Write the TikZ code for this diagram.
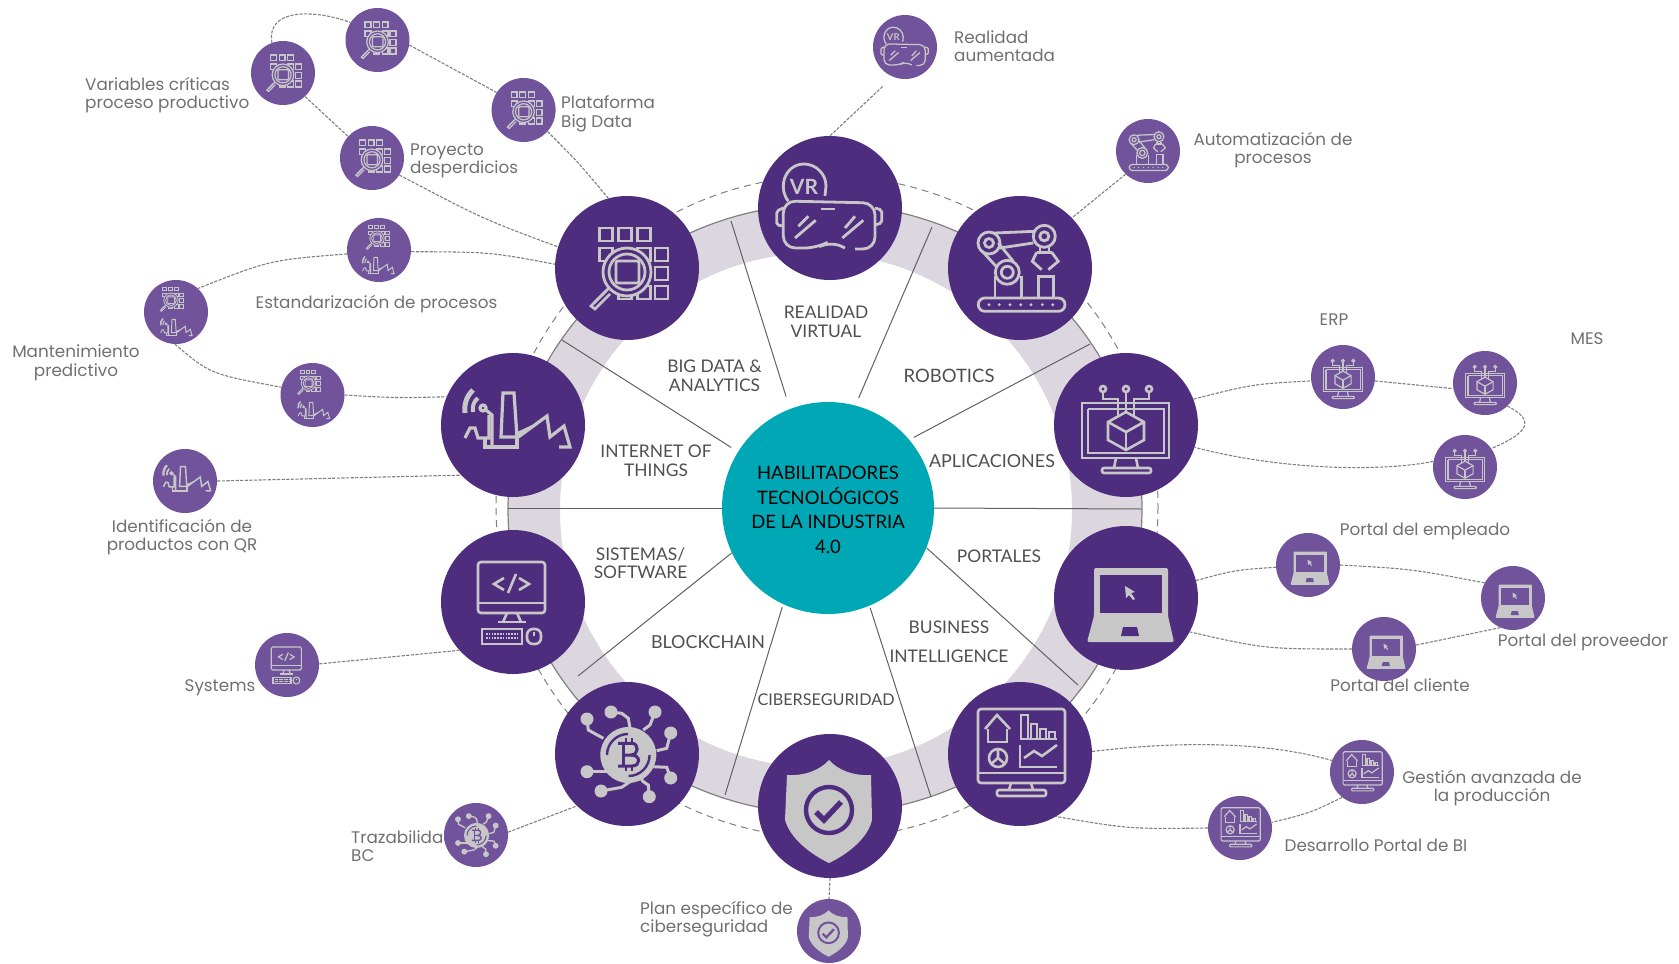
\documentclass[tikz,border=0pt]{standalone}
\usepackage{fontspec}
\setmainfont{Lato}
\newfontfamily\labfont{Poppins}
\usetikzlibrary{calc}
\definecolor{hubpurple}{HTML}{4E2C7E}
\definecolor{satpurple}{HTML}{70539B}
\definecolor{tealhub}{HTML}{00A8B5}
\definecolor{bandgray}{HTML}{DCD7DF}
\definecolor{icongray}{HTML}{C8C7C8}
\definecolor{linegray}{HTML}{808080}
\definecolor{textgray}{HTML}{707070}
\definecolor{capsgray}{HTML}{4F4F4F}
\tikzset{
	hub/.style={circle, fill=hubpurple, minimum size=144pt, inner sep=0},
	sat/.style={circle, fill=satpurple, minimum size=64pt, inner sep=0},
	link/.style={draw=linegray, line width=1.1pt, dash pattern=on 3.2pt off 1.4pt},
	spoke/.style={draw=capsgray!90, line width=1pt},
	lab/.style={text=textgray, font=\labfont\fontsize{16.8}{18.5}\selectfont, align=center, inner sep=0},
	labl/.style={lab, align=left, anchor=west},
	caps/.style={text=capsgray, font=\fontsize{17.4}{18.5}\selectfont, align=center, inner sep=0}
}
\newcommand{\cell}[2] % left, top of one small square
{
	\draw (#1,#2) rectangle (#1+13,#2+13);
}
\newcommand{\icondata}[3] % place, scale, background
{
	\begin{scope}[shift={(#1)}, scale=#2, color=icongray, line width=#2*2.8pt]
		\cell{-27.5}{-40}
		\cell{-8.5}{-40}
		\cell{10.5}{-40}
		\cell{-27.5}{-20}
		\cell{10.5}{-20}
		\cell{28}{-20}
		\cell{28}{-1}
		\cell{28}{18}
		\cell{10.5}{18}
		\cell{-8.5}{18}
		% lens
		\draw[fill=#3] (0,4) circle (24);
		\draw (0,4) circle (18);
		\draw[rounded corners=#2*2pt] (-11,-7) rectangle (12,15);
		\draw (-18,20) -- (-33,35);
		\draw (-21,23) -- (-36,38) -- (-32,41) -- (-17,26);
	\end{scope}
}
\newcommand{\iconplant}[2] % place, scale
{
	\begin{scope}[shift={(#1)}, scale=#2, color=icongray, line width=#2*3.2pt]
		% waves
		\draw[line width=#2*5pt] (-48,-12) .. controls (-49,-22) and (-46,-29) .. (-40,-35);
		\draw[line width=#2*4pt] (-40,-13) .. controls (-41,-19) and (-39,-24) .. (-35,-27);
		\draw (-30,-17) circle (3);
		\draw (-27,-15) -- (-21,-10) -- (-21,21);
		% plant
		\draw (-48,13) -- (-43,3) -- (-38,3) -- (-35,13) -- (-24,13) -- (-24,-10);
		\draw (-28,13) -- (-28,22) -- (4,22) -- (4,12);
		\draw (-12,12) -- (-10,-32) -- (1,-32) -- (4,12) -- cycle;
		\fill (4,7) -- (19,0) -- (5,14) -- cycle;
		\draw (4,13) -- (34,-9) -- (37,12) -- (51,1) -- (57,22) -- (46,22);
	\end{scope}
}
\newcommand{\iconvr}[2]
{
	\begin{scope}[shift={(#1)}, scale=#2, color=icongray, line width=#2*2.8pt]
		\draw (-41.7,-6.7) .. controls (-53,-22) and (-44,-44) .. (-26,-44) .. controls (-14,-44) and (-4,-34) .. (-4,-22) -- (-5,-12);
		\node[text=icongray, font=\bfseries\fontsize{21}{22}\selectfont, scale=#2, inner sep=0] (mark#1) at (-26,-21) {VR};
		\draw[rounded corners=#2*12pt] (25,41) -- (45,41) -- (45,-5) -- (-46.7,-7) -- (-46.7,40) -- (-13,40) -- (0,33) -- (15,40);
		\draw (-9.3,1) -- (5,1);
		\draw[rounded corners=#2*2pt] (-46.7,0) -- (-53.3,3) -- (-53.3,17) -- (-46.7,18);
		\draw[rounded corners=#2*2pt] (45,0) -- (51.7,2) -- (51.7,15) -- (45,17);
		\draw (-31.7,18.3) -- (-21.7,8.3);
		\draw (-35,30) -- (-14.3,12.3);
		\draw (15,20) -- (25,8.3);
		\draw (12.3,30) -- (33.3,12.3);
	\end{scope}
}
\newcommand{\iconrobot}[2]
{
	\begin{scope}[shift={(#1)}, scale=#2, color=icongray, line width=#2*2.8pt]
		\draw[rounded corners=#2*6.5pt] (-41.7,30) rectangle (45,43.3);
		\fill (-31,36.7) circle (1.6) (-20.7,36.7) circle (1.6) (-10,36.7) circle (1.6) (0.7,36.7) circle (1.6) (11,36.7) circle (1.6) (22.3,36.7) circle (1.6) (32.7,36.7) circle (1.6);
		% arm
		\draw (-31,-25) circle (11);
		\draw (-31,-25) circle (4.5);
		\draw (24.3,-31.7) circle (11);
		\draw (24.3,-31.7) circle (4.5);
		\draw (-12.7,4.3) circle (12);
		\draw (-12.7,4.3) circle (6);
		\draw (-25,-35) -- (15,-36.7);
		\draw (-20,-20) -- (13.3,-25);
		\draw (-37.7,-16.7) -- (-23.3,-1);
		\draw (-21.7,-25) -- (-6.7,-6.7);
		\draw (-25,8.3) -- (-25,30);
		\draw (1.7,8.3) -- (1.7,30);
		% gripper
		\draw (20,-21) -- (20,-15.7);
		\draw (29,-21) -- (29,-15.7);
		\draw (16.7,-15.7) -- (31.7,-15.7);
		\draw (16.7,-15.7) -- (12.3,-6.7) -- (21.7,1.7);
		\draw (31.7,-15.7) -- (38.3,-6.7) -- (28.3,1.7);
		\draw (18.3,30) -- (18.3,8.3) -- (33.3,8.3) -- (33.3,30);
	\end{scope}
}
\newcommand{\iconapps}[2]
{
	\begin{scope}[shift={(#1)}, scale=#2, color=icongray, line width=#2*2.6pt]
		\draw (-44,-22) rectangle (43,33);
		\draw (-38,-16) -- (38,-16) -- (38,28) -- (-38,28) -- (-38,-16);
		\draw (-10,33) -- (-12,43);
		\draw (10,33) -- (12,43);
		\draw[rounded corners=#2*2pt] (-24,43) rectangle (25,48);
		% pins
		\draw (-23,-36) circle (3);
		\draw (0,-36) circle (3);
		\draw (23,-36) circle (3);
		\draw (-23,-33) -- (-23,-26) -- (-8,-26) -- (-8,-9);
		\draw (0,-33) -- (0,-13);
		\draw (23,-33) -- (23,-26) -- (8,-26) -- (8,-9);
		% cube
		\draw (0,-13) -- (18,-3) -- (18,15) -- (0,25) -- (-18,15) -- (-18,-3) -- cycle;
		\draw (-18,-3) -- (0,7) -- (18,-3);
		\draw (0,7) -- (0,25);
	\end{scope}
}
\newcommand{\iconlaptop}[3] % place, scale, background
{
	\begin{scope}[shift={(#1)}, scale=#2, color=icongray, line width=#2*2.2pt]
		\fill[rounded corners=#2*2pt] (-32,-30) -- (42,-30) -- (42,18) -- (48,44) -- (-39,44) -- (-32,18) -- cycle;
		\fill[#3] (-26,-23) rectangle (36,15);
		\fill[#3] (-3,29) -- (11,29) -- (13,38) -- (-5,38) -- cycle;
		% cursor
		\fill (-1,-12) -- (9,-6) -- (5,-5) -- (9,1) -- (7,2) -- (3,-3) -- (0,0) -- cycle;
	\end{scope}
}
\newcommand{\iconbi}[2]
{
	\begin{scope}[shift={(#1)}, scale=#2, color=icongray, line width=#2*2.6pt]
		\draw[rounded corners=#2*3pt] (-42,-45) rectangle (45,29);
		\draw (-42,19) -- (45,19);
		\draw (-9,29) -- (-11,36);
		\draw (11,29) -- (13,36);
		\draw[rounded corners=#2*2pt] (-23,36) rectangle (26,42);
		% house
		\draw (-35,-25) -- (-23,-39) -- (-10,-25);
		\draw (-32,-25) -- (-32,-12) -- (-13,-12) -- (-13,-25);
		% bars
		\draw (0,-15) -- (37,-15);
		\draw (1,-15) -- (1,-39) -- (8,-39) -- (8,-15);
		\draw (11,-15) -- (11,-30) -- (17,-30) -- (17,-15);
		\draw (20,-15) -- (20,-25) -- (26,-25) -- (26,-15);
		\draw (29,-15) -- (29,-22) -- (35,-22) -- (35,-15);
		% pie
		\draw (-22,4) circle (9);
		\draw (-22,-5) -- (-22,4) -- (-15,10);
		\draw (-22,4) -- (-29,10);
		% chart
		\draw (0,-9) -- (0,13) -- (37,13);
		\draw (4,4) -- (14,-3) -- (22,2) -- (37,-9);
	\end{scope}
}
\newcommand{\iconshield}[3] % place, scale, background
{
	\begin{scope}[shift={(#1)}, scale=#2, color=icongray]
		\fill (-1,-46) .. controls (-10,-36) and (-25,-30) .. (-43,-31) -- (-45,14) .. controls (-40,32) and (-20,48) .. (-1,57) .. controls (18,48) and (38,32) .. (42,14) -- (41,-31) .. controls (23,-30) and (8,-36) .. (-1,-46) -- cycle;
		\draw[#3, line width=#2*4.4pt] (-1,4) circle (23);
		\draw[#3, line width=#2*5.4pt] (-14,6) -- (-6,14) -- (11,-4);
	\end{scope}
}
\newcommand{\iconcoin}[3] % place, scale, background
{
	\begin{scope}[shift={(#1)}, scale=#2, color=icongray, line width=#2*3pt]
		% branches
		\draw (-40,-35) -- (-38.7,-24) -- (-23.7,-15.7);
		\draw (-16,-42) -- (-5.3,-40.7) -- (1.3,-35.7) -- (3,-25.7);
		\draw (28,-42) -- (23,-29) -- (16.3,-24);
		\draw (43.7,-21) -- (39.7,-5.7) -- (29.7,-3.3);
		\draw (43.7,24) -- (39.7,13.3) -- (26.3,12.7);
		\draw (22.3,42.7) -- (21.3,31) -- (16.3,27.7) -- (12,22);
		\draw (-26,37) -- (-5.3,33.3) -- (3,27.7);
		\draw (-40,17.7) -- (-18.7,17.7);
		% leaves
		\fill (-40,-35) circle (6.5) (-16,-42) circle (6.5) (28,-42) circle (6.5) (43.7,-21) circle (6.5) (43.7,24) circle (6.5) (22.3,42.7) circle (6.5) (-26,37) circle (6.5) (-40,17.7) circle (6.5);
		% coin
		\fill (1.3,1) circle (28);
		\draw[#3, line width=#2*2.4pt] (-20,1) arc (180:270:21);
		\draw[#3, line width=#2*2.4pt] (22.6,1) arc (0:90:21);
		\draw[#3, line width=#2*3pt] (-4,-10.7) -- (-4,12);
		\draw[#3, line width=#2*3pt] (-9,-10.7) -- (5,-10.7) .. controls (12,-10.7) and (12,1) .. (4,1) -- (-4,1);
		\draw[#3, line width=#2*3pt] (4,1) .. controls (14,1) and (14,12) .. (5,12) -- (-9,12);
		\draw[#3, line width=#2*2.4pt] (-1,-16) -- (-1,-11) (5,-16) -- (5,-11) (-1,12) -- (-1,17) (5,12) -- (5,17);
	\end{scope}
}
\newcommand{\iconpc}[2]
{
	\begin{scope}[shift={(#1)}, scale=#2, color=icongray, line width=#2*2.6pt]
		\draw[rounded corners=#2*3pt] (-35,-40) rectangle (32,11);
		\draw (-35,1) -- (32,1);
		\draw (-9,-24) -- (-19,-18) -- (-9,-12);
		\draw (6,-24) -- (16,-18) -- (6,-12);
		\draw (3,-28) -- (-5,-9);
		\draw (-6,11) -- (-10,20);
		\draw (4,11) -- (8,20);
		\draw (-15,20) -- (13,20);
		% keyboard
		\draw (-31,27) rectangle (9,42);
		\draw[dash pattern=on #2*1.6pt off #2*1.2pt] (-27,32) -- (5,32);
		\draw[dash pattern=on #2*1.6pt off #2*1.2pt] (-27,36) -- (5,36);
		% mouse
		\draw[rounded corners=#2*6pt] (14,27) rectangle (28,42);
		\draw (21,30) -- (21,34);
	\end{scope}
}
\begin{document}
\begin{tikzpicture}[x=1pt, y=-1pt]
	\useasboundingbox (0,0) rectangle (1679,964);
	% ring
	\fill[bandgray, even odd rule] (825,509) ellipse (317 and 305) (816,510) ellipse (256 and 257);
	\draw[linegray, line width=1.2pt] (825,509) ellipse (317 and 305);
	\draw[linegray, line width=1pt, dash pattern=on 7pt off 5pt] (827,507) circle (331);
	% centre
	\node[circle, fill=tealhub, minimum size=212pt, inner sep=0] (hab) at (828,508) {};
	\node[align=center, text=black, inner sep=0, font=\fontsize{18.5}{24.6}\selectfont] (habtext) at (828,510) {HABILITADORES\\TECNOLÓGICOS\\DE LA INDUSTRIA\\4.0};
	% spokes
	\coordinate (rima) at (731,221);
	\coordinate (rimb) at (932,227);
	\coordinate (rimc) at (1090,344);
	\coordinate (rimd) at (1141,509);
	\coordinate (rime) at (1078,685);
	\coordinate (rimf) at (931,797);
	\coordinate (rimg) at (725,795);
	\coordinate (rimh) at (578,676);
	\coordinate (rimi) at (508,508);
	\coordinate (rimj) at (562,340);
	\draw[spoke, shorten <=13pt] (hab.111) -- (rima);
	\draw[spoke, shorten <=8pt] (hab.75) -- (rimb);
	\draw[spoke, shorten <=5pt] (hab.40) -- (rimc);
	\draw[spoke] (hab.0) -- (rimd);
	\draw[spoke] (hab.-22) -- (rime);
	\draw[spoke, shorten <=2pt] (hab.-67) -- (rimf);
	\draw[spoke, shorten <=3pt] (hab.245) -- (rimg);
	\draw[spoke] (hab.205) -- (rimh);
	\draw[spoke] (hab.180) -- (rimi);
	\draw[spoke, shorten <=8pt] (hab.148) -- (rimj);
	% texts of the wheel
	\node[caps] (tvr) at (826,322) {REALIDAD\\VIRTUAL};
	\node[caps] (tbig) at (714.5,376) {BIG DATA \&\\ANALYTICS};
	\node[caps, font=\fontsize{18.5}{18.5}\selectfont] (trob) at (949,376) {ROBOTICS};
	\node[caps] (tiot) at (656,461) {INTERNET OF\\THINGS};
	\node[caps, font=\fontsize{17.9}{18.5}\selectfont] (tapp) at (992,461) {APLICACIONES};
	\node[caps] (tsis) at (640.5,563) {SISTEMAS/\\SOFTWARE};
	\node[caps] (tpor) at (999,556) {PORTALES};
	\node[caps, font=\fontsize{17.4}{29}\selectfont] (tbi) at (949,641.5) {BUSINESS\\INTELLIGENCE};
	\node[caps, font=\fontsize{17.9}{18.5}\selectfont] (tblo) at (708,642) {BLOCKCHAIN};
	\node[caps, font=\fontsize{16.2}{18.5}\selectfont] (tcib) at (826,700) {CIBERSEGURIDAD};
	% outer texts
	\node[labl] (lvar) at (85,95) {Variables críticas\\proceso productivo};
	\node[labl] (lpro) at (410,161) {Proyecto\\desperdicios};
	\node[labl] (lpla) at (561,114) {Plataforma\\Big Data};
	\node[lab] (lest) at (376.5,304) {Estandarización de procesos};
	\node[lab] (lman) at (76,363) {Mantenimiento\\predictivo};
	\node[lab] (lide) at (182,537) {Identificación de\\productos con QR};
	\node[lab] (lsys) at (220,688) {Systems};
	\node[labl] (ltra) at (351,846) {Trazabilidad\\BC};
	\node[labl] (lpln) at (640,919) {Plan específico de\\ciberseguridad};
	\node[labl] (lrea) at (954,46) {Realidad\\aumentada};
	\node[lab] (laut) at (1273,150) {Automatización de\\procesos};
	\node[lab] (lerp) at (1334,320) {ERP};
	\node[lab] (lmes) at (1587,339) {MES};
	\node[lab] (lemp) at (1425,531) {Portal del empleado};
	\node[lab] (lprv) at (1583,642) {Portal del proveedor};
	\node[lab] (lcli) at (1400,685) {Portal del cliente};
	\node[lab] (lges) at (1492,788) {Gestión avanzada de\\la producción};
	\node[lab] (ldes) at (1376,845) {Desarrollo Portal de BI};
	% hubs
	\node[hub] (vr) at (830,208) {};
	\node[hub] (robot) at (1020,268) {};
	\node[hub] (apps) at (1126,425) {};
	\node[hub] (laptop) at (1126,598) {};
	\node[hub] (bi) at (1020,754) {};
	\node[hub] (shield) at (830,806) {};
	\node[hub] (coin) at (627,754) {};
	\node[hub] (pc) at (513,602) {};
	\node[hub] (plant) at (513,425) {};
	\node[hub] (data) at (627,268) {};
	% satellites
	\node[sat] (dataa) at (377.5,40) {};
	\node[sat] (datab) at (283,73) {};
	\node[sat] (datac) at (523.6,110) {};
	\node[sat] (datad) at (372,158) {};
	\node[sat] (mixa) at (379,250) {};
	\node[sat] (mixb) at (176,312) {};
	\node[sat] (mixc) at (312.5,395) {};
	\node[sat] (plantsat) at (185,481) {};
	\node[sat] (pcsat) at (287,665) {};
	\node[sat] (coinsat) at (476,835) {};
	\node[sat] (shieldsat) at (829,931) {};
	\node[sat] (vrsat) at (905,47) {};
	\node[sat] (robotsat) at (1148,151) {};
	\node[sat] (appsa) at (1343,377) {};
	\node[sat] (appsb) at (1485,383) {};
	\node[sat] (appsc) at (1465,467) {};
	\node[sat] (lapa) at (1308,565) {};
	\node[sat] (lapb) at (1513,598) {};
	\node[sat] (lapc) at (1384,649) {};
	\node[sat] (bia) at (1362,772) {};
	\node[sat] (bib) at (1240,828) {};
	% links
	\draw[link] (datab.110) .. controls (266,10) and (310,8) .. (dataa.147);
	\draw[link] (dataa.-9) -- (datac.147);
	\draw[link] (datab.-47) -- (datad.138);
	\draw[link] (datac.-42) .. controls (578,162) .. (data.105);
	\draw[link] (datad.-32) .. controls (483,219) .. (data.163);
	\draw[link] (mixa.-3) .. controls (490,252) .. (data.177);
	\draw[link] (mixa.187) .. controls (270,260) .. (mixb.47);
	\draw[link] (mixb.268) .. controls (210,374) .. (mixc.166);
	\draw[link] (mixc.0) .. controls (395,398) .. (plant.157);
	\draw[link] (plantsat.0) -- (plant.224);
	\draw[link] (pcsat.2) -- (pc.222);
	\draw[link] (coinsat.5) -- (coin.226);
	\draw[link] (shield.-90) -- (shieldsat.90);
	\draw[link, shorten <=14pt] (vrsat.-112) -- (vr.90);
	\draw[link] (robotsat.226) -- (robot.44);
	\draw[link] (apps.21) .. controls (1253,384) .. (appsa.187);
	\draw[link] (appsa.-7) .. controls (1414,384) .. (appsb.190);
	\draw[link] (appsb.-46) .. controls (1535,420) and (1530,432) .. (appsc.35);
	\draw[link] (appsc.170) .. controls (1380,472) and (1280,470) .. (apps.-18);
	\draw[link] (laptop.14) .. controls (1235,570) .. (lapa.184);
	\draw[link] (lapa.0) .. controls (1412,569) .. (lapb.152);
	\draw[link] (lapb.247) .. controls (1458,637) .. (lapc.7);
	\draw[link] (lapc.180) .. controls (1265,649) .. (laptop.-28);
	\draw[link] (bi.2) .. controls (1170,742) and (1260,740) .. (bia.159);
	\draw[link] (bia.232) .. controls (1310,813) .. (bib.10);
	\draw[link] (bib.180) .. controls (1129,829) .. (bi.-60);
	% hub icons
	\iconvr{vr}{1}
	\iconrobot{robot}{1}
	\iconapps{apps}{1}
	\iconlaptop{laptop}{1}{hubpurple}
	\iconbi{bi}{1}
	\iconshield{shield}{1}{hubpurple}
	\iconcoin{coin}{1}{hubpurple}
	\iconpc{pc}{1}
	\iconplant{plant}{1}
	\icondata{data}{1}{hubpurple}
	% satellite icons
	\icondata{dataa}{0.45}{satpurple}
	\icondata{datab}{0.45}{satpurple}
	\icondata{datac}{0.45}{satpurple}
	\icondata{datad}{0.45}{satpurple}
	\icondata{$(mixa)+(-2,-13)$}{0.3}{satpurple}
	\iconplant{$(mixa)+(-2,17)$}{0.3}
	\icondata{$(mixb)+(-5,-13)$}{0.3}{satpurple}
	\iconplant{$(mixb)+(-1,17)$}{0.3}
	\icondata{$(mixc)+(-4,-13)$}{0.3}{satpurple}
	\iconplant{$(mixc)+(0,17)$}{0.3}
	\iconplant{plantsat}{0.45}
	\iconpc{pcsat}{0.45}
	\iconcoin{coinsat}{0.45}{satpurple}
	\iconshield{shieldsat}{0.45}{satpurple}
	\iconvr{vrsat}{0.45}
	\iconrobot{robotsat}{0.45}
	\iconapps{appsa}{0.45}
	\iconapps{appsb}{0.45}
	\iconapps{appsc}{0.45}
	\iconlaptop{lapa}{0.45}{satpurple}
	\iconlaptop{lapb}{0.45}{satpurple}
	\iconlaptop{lapc}{0.45}{satpurple}
	\iconbi{bia}{0.45}
	\iconbi{bib}{0.45}
\end{tikzpicture}
\end{document}
